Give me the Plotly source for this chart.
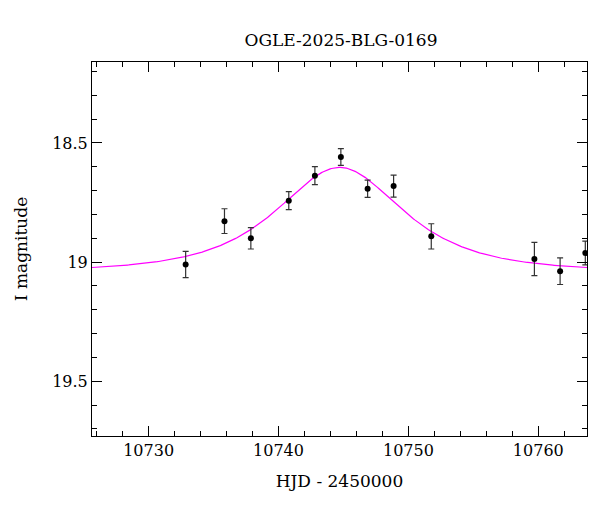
import numpy as np
import plotly.graph_objects as go

# photometry
hjd = [10732.85, 10735.84, 10737.87, 10740.79, 10742.80, 10744.80,
       10746.86, 10748.86, 10751.76, 10759.70, 10761.68, 10763.62]
mag = [19.010, 18.828, 18.900, 18.742, 18.637, 18.559,
       18.692, 18.681, 18.892, 18.987, 19.038, 18.962]
err = [0.055, 0.052, 0.045, 0.038, 0.038, 0.035,
       0.036, 0.046, 0.053, 0.070, 0.056, 0.050]

# PSPL model parameters
t0, tE, u0, base = 10744.7, 6.5, 0.83, 19.04

t = np.linspace(10725.6, 10763.8, 400)
u = np.sqrt(u0**2 + ((t - t0) / tE)**2)
A = (u**2 + 2) / (u * np.sqrt(u**2 + 4))
model = base - 2.5 * np.log10(A)

fig = go.Figure()
fig.add_trace(go.Scatter(x=t, y=model, mode="lines",
                         line=dict(color="#ff00ff", width=1.2)))
fig.add_trace(go.Scatter(x=hjd, y=mag, mode="markers",
                         marker=dict(color="black", size=6),
                         error_y=dict(type="data", array=err, color="#333333",
                                      thickness=1.2, width=3)))

axis_common = dict(showgrid=False, zeroline=False, showline=True, linecolor="black",
                   linewidth=1, mirror="ticks", ticks="inside", ticklen=10,
                   tickcolor="black", tickfont=dict(size=16, color="black"))
fig.update_xaxes(range=[10725.64, 10763.75], tickvals=[10730, 10740, 10750, 10760],
                 tickformat="d",
                 minor=dict(dtick=2, tick0=10730, ticks="inside", ticklen=5, tickcolor="black"),
                 title=dict(text="HJD - 2450000", font=dict(size=17, color="black")),
                 **axis_common)
fig.update_yaxes(range=[19.73, 18.16], tickvals=[18.5, 19, 19.5],
                 minor=dict(dtick=0.1, tick0=18.5, ticks="inside", ticklen=5, tickcolor="black"),
                 title=dict(text="I magnitude", font=dict(size=17, color="black"), standoff=20),
                 **axis_common)
fig.update_layout(
    width=600, height=512,
    margin=dict(l=79, r=21, t=54, b=84),
    plot_bgcolor="white", paper_bgcolor="white",
    font=dict(family="DejaVu Serif", color="black"),
    showlegend=False,
    title=dict(text="OGLE-2025-BLG-0169", x=0.555, xanchor="center", y=0.95,
               font=dict(size=17, color="black")),
)
fig.write_html("out.html")
